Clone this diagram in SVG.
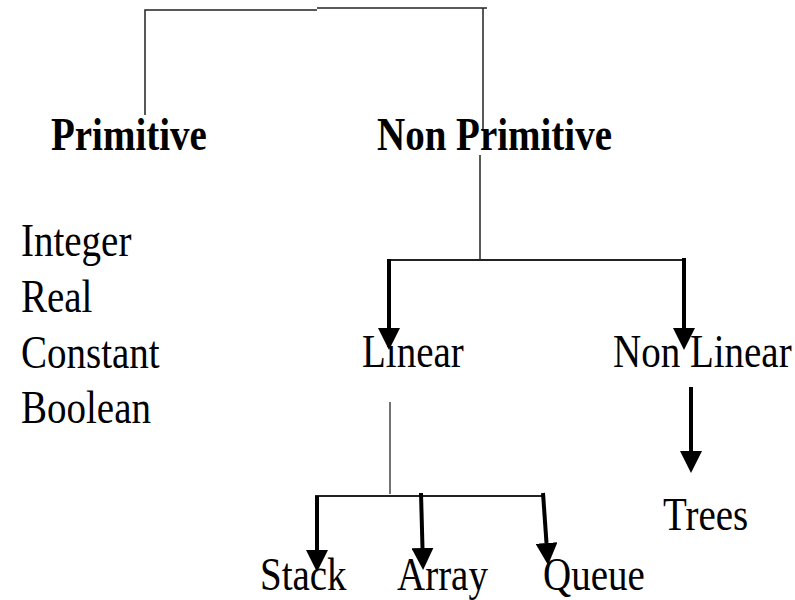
<svg xmlns="http://www.w3.org/2000/svg" width="795" height="600" viewBox="0 0 795 600">
<style>
.t{font-family:"Liberation Serif","Times New Roman",serif;font-size:39px;fill:#000}
.b{font-weight:bold}
.thin{stroke:#222;stroke-width:1.5;fill:none}
.thick{stroke:#000;stroke-width:4;fill:none;marker-end:url(#ah)}
</style>
<defs>
<marker id="ah" markerUnits="userSpaceOnUse" markerWidth="22" markerHeight="22" viewBox="0 -11 22 22" refX="0" refY="0" orient="auto">
<path d="M0,-11 L22,0 L0,11 z" fill="#000"/>
</marker>
</defs>
<rect width="795" height="600" fill="#fff"/>
<g id="connectors">
<polyline class="thin" points="145,115 145,10 317,10"/>
<line class="thin" x1="317" y1="8" x2="487" y2="8"/>
<line class="thin" x1="483" y1="8" x2="483" y2="130"/>
<line class="thin" x1="480" y1="155" x2="480" y2="260"/>
<line class="thin" x1="387" y1="260" x2="686" y2="260" style="stroke-width:2"/>
<line class="thick" x1="389" y1="259" x2="389" y2="328"/>
<line class="thick" x1="684" y1="258" x2="684" y2="328"/>
<line class="thick" x1="691" y1="387" x2="691" y2="451"/>
<line class="thin" x1="390" y1="402" x2="390" y2="494" style="stroke:#444"/>
<line class="thin" x1="315" y1="496" x2="545" y2="496" style="stroke-width:2"/>
<line class="thick" x1="317" y1="496" x2="317" y2="550"/>
<line class="thick" x1="421" y1="493" x2="422.5" y2="548"/>
<line class="thick" x1="543" y1="493" x2="546.5" y2="543"/>
</g>
<g id="primitive"><text class="t b" transform="translate(51,150) scale(1,1.2)">Primitive</text></g>
<g id="non-primitive"><text class="t b" transform="translate(377,150) scale(1,1.2)">Non Primitive</text></g>
<g id="primitive-list">
<text class="t" transform="translate(21,256) scale(1,1.2)">Integer</text>
<text class="t" transform="translate(21,312) scale(1,1.2)">Real</text>
<text class="t" transform="translate(21,368) scale(1,1.2)">Constant</text>
<text class="t" transform="translate(21,423) scale(1,1.2)">Boolean</text>
</g>
<g id="linear"><text class="t" transform="translate(362,367) scale(1,1.2)">Linear</text></g>
<g id="non-linear"><text class="t" transform="translate(613,367) scale(1,1.2)">Non Linear</text></g>
<g id="trees"><text class="t" transform="translate(663,530) scale(1,1.2)">Trees</text></g>
<g id="stack"><text class="t" transform="translate(260,590) scale(1,1.2)">Stack</text></g>
<g id="array"><text class="t" transform="translate(397,590) scale(1,1.2)">Array</text></g>
<g id="queue"><text class="t" transform="translate(543,590) scale(1,1.2)">Queue</text></g>
</svg>
